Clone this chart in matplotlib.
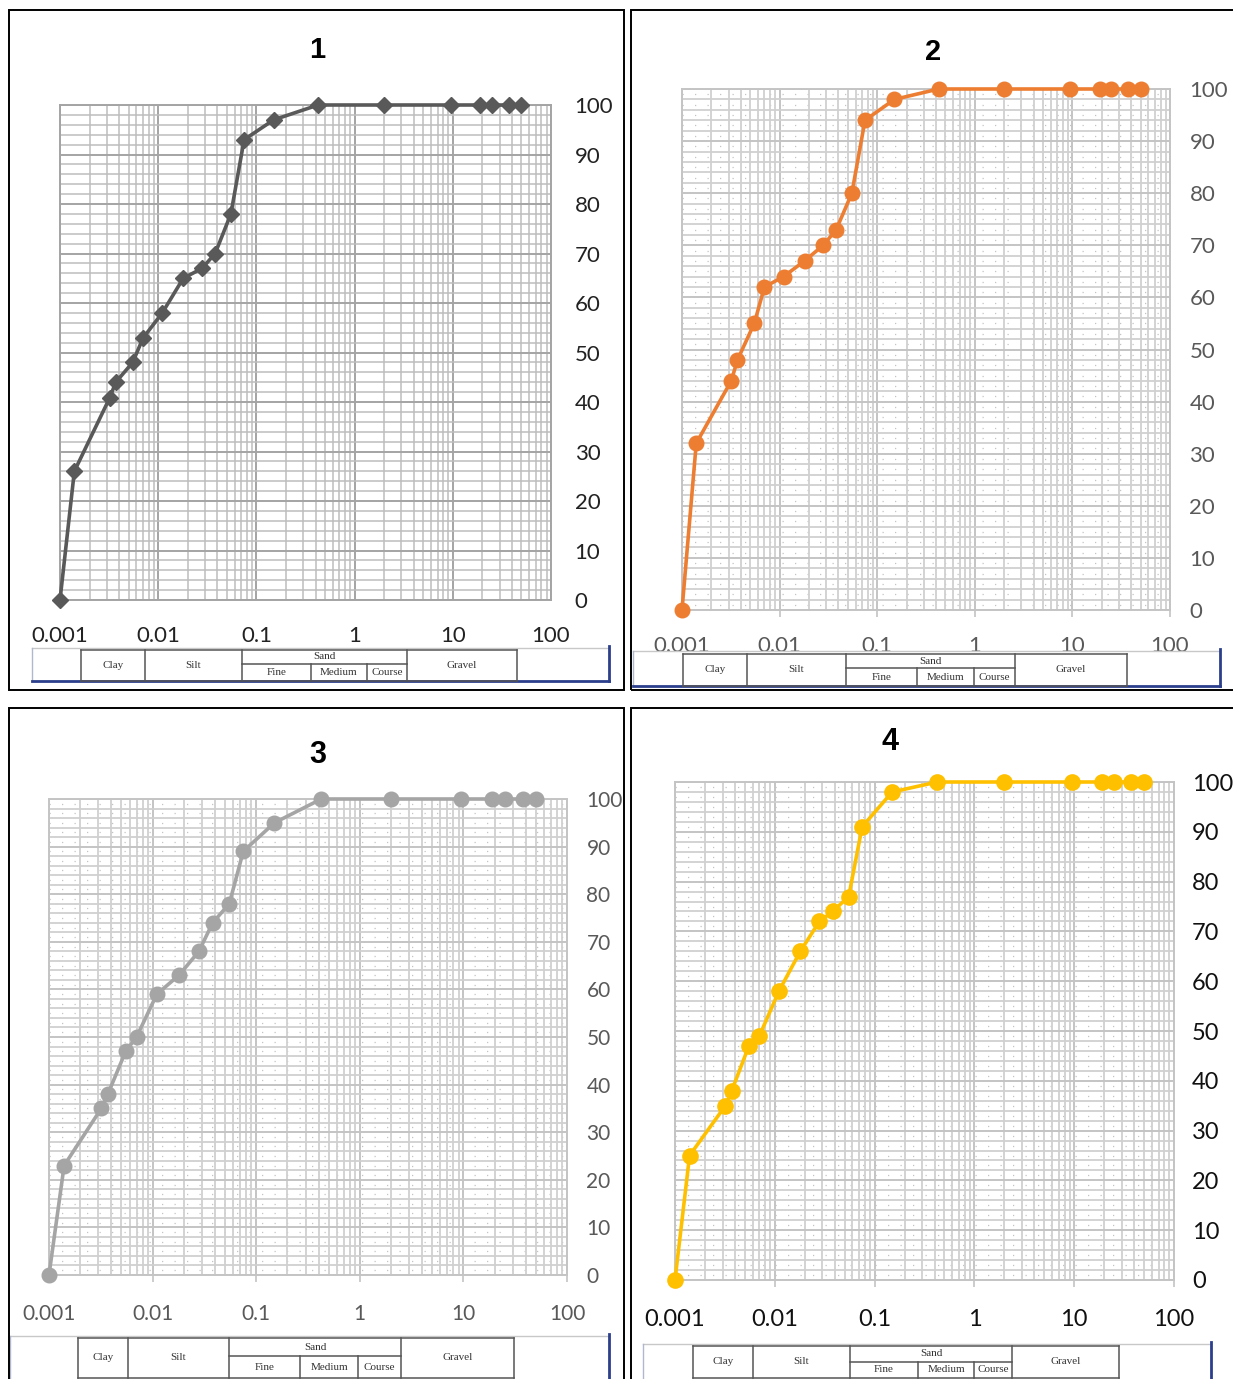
import numpy as np
import matplotlib
matplotlib.use("Agg")
import matplotlib.pyplot as plt
from matplotlib.patches import Rectangle
from matplotlib.lines import Line2D
from matplotlib.ticker import LogLocator, NullFormatter

# grain size (mm) - same sieve/hydrometer sizes for all four samples
sizes = [0.001, 0.0014, 0.0032, 0.0037, 0.0055, 0.007, 0.011, 0.018, 0.028,
         0.038, 0.055, 0.075, 0.15, 0.425, 2.0, 9.5, 19.0, 25.0, 37.5, 50.0]

# percent passing
passing_1 = [0, 26, 40.8, 44, 48, 52.9, 58, 65, 67, 70, 78, 93, 97, 100, 100, 100, 100, 100, 100, 100]
passing_2 = [0, 32, 44, 48, 55, 62, 64, 67, 70, 73, 80, 94, 98, 100, 100, 100, 100, 100, 100, 100]
passing_3 = [0, 23, 35, 38, 47, 50, 59, 63, 68, 74, 78, 89, 95, 100, 100, 100, 100, 100, 100, 100]
passing_4 = [0, 25, 35, 38, 47, 49, 58, 66, 72, 74, 77, 91, 98, 100, 100, 100, 100, 100, 100, 100]

titles = ["1", "2", "3", "4"]
x_ticks = [0.001, 0.01, 0.1, 1, 10, 100]
x_labels = ["0.001", "0.01", "0.1", "1", "10", "100"]
y_ticks = list(range(0, 101, 10))

soil_classes = ["Clay", "Silt", "Sand", "Gravel"]
sand_parts = ["Fine", "Medium", "Course"]

W, H = 1233, 1379
fig = plt.figure(figsize=(W / 100, H / 100), dpi=100)


def fx(x):
    return x / W


def fy(y):
    return 1 - y / H


def fline(x0, y0, x1, y1, color, lw, z=6):
    fig.add_artist(Line2D([fx(x0), fx(x1)], [fy(y0), fy(y1)], color=color, lw=lw, zorder=z))


# pixel layout of each panel
panels = [
    dict(frame=(8.5, 10.5, 623.5, 690.5), ax=(60, 105, 551, 600), title=(317, 50),
         color="#595959", marker="D", ms=8.5, lw=2.6, lab_color="#222222", lab_size=16,
         ypad=17, xpad=19, tick_len=0, grid_major="#a4a4a4", grid_minor="#bdbdbd",
         minor_lw=1.1, dots=False, title_size=21,
         table=dict(outer=(32, 648, 609, 681), top=650, bottom=681, split=664,
                    cols=[81, 145, 242, 407, 517], sub=[311, 367])),
    dict(frame=(631, 10.5, 1245, 690.5), ax=(682, 89, 1170, 610), title=(933, 52),
         color="#ED7D31", marker="o", ms=10.5, lw=2.6, lab_color="#595959", lab_size=16,
         ypad=14, xpad=14, tick_len=5, grid_major="#c4c4c4", grid_minor="#d0d0d0",
         minor_lw=1.3, dots=True, title_size=21,
         table=dict(outer=(633, 651, 1220, 686), top=654, bottom=686, split=668,
                    cols=[683, 747, 846, 1015, 1127], sub=[917, 974])),
    dict(frame=(8.5, 707.5, 623.5, 1395), ax=(49, 799, 567, 1275), title=(318, 755),
         color="#A5A5A5", marker="o", ms=10.5, lw=2.6, lab_color="#595959", lab_size=15,
         ypad=14, xpad=16, tick_len=5, grid_major="#c4c4c4", grid_minor="#d0d0d0",
         minor_lw=1.3, dots=True, title_size=22,
         table=dict(outer=(10, 1336, 609, 1395), top=1338, bottom=1378, split=1356,
                    cols=[78, 128, 229, 401, 514], sub=[300, 358])),
    dict(frame=(631, 707.5, 1245, 1395), ax=(675, 782, 1174, 1280), title=(890, 742),
         color="#FFC000", marker="o", ms=11, lw=2.6, lab_color="#111111", lab_size=17,
         ypad=13, xpad=16, tick_len=5, grid_major="#c4c4c4", grid_minor="#d0d0d0",
         minor_lw=1.3, dots=True, title_size=22,
         table=dict(outer=(643, 1344, 1211, 1395), top=1346, bottom=1378, split=1362,
                    cols=[693, 753, 850, 1012, 1119], sub=[918, 974])),
]
series = [passing_1, passing_2, passing_3, passing_4]

for p, vals, title in zip(panels, series, titles):
    x0, y0, x1, y1 = p["ax"]
    ax = fig.add_axes([fx(x0), fy(y1), (x1 - x0) / W, (y1 - y0) / H])
    ax.set_xscale("log")
    ax.set_xlim(0.001, 100)
    ax.set_ylim(0, 100)
    ax.set_xticks(x_ticks)
    ax.set_xticklabels(x_labels)
    ax.xaxis.set_minor_locator(LogLocator(base=10, subs=np.arange(2, 10), numticks=20))
    ax.xaxis.set_minor_formatter(NullFormatter())
    ax.set_yticks(y_ticks)
    ax.set_yticks(np.arange(0, 101, 2), minor=True)
    ax.yaxis.tick_right()
    ax.tick_params(axis="y", which="both", length=0, pad=p["ypad"],
                   labelsize=p["lab_size"], labelcolor=p["lab_color"])
    ax.tick_params(axis="x", which="minor", length=0)
    ax.tick_params(axis="x", which="major", length=p["tick_len"], color=p["grid_major"],
                   width=1.2, pad=p["xpad"], labelsize=p["lab_size"], labelcolor=p["lab_color"])
    for lab in ax.get_xticklabels() + ax.get_yticklabels():
        lab.set_fontfamily("Lato")
    ax.grid(which="major", color=p["grid_major"], lw=1.4)
    ax.grid(which="minor", color=p["grid_minor"], lw=p["minor_lw"])
    ax.set_axisbelow(True)
    if p["dots"]:
        ax.hlines(np.arange(1, 100, 2), 0.001, 100, colors="#c4c4c4",
                  linestyles=(0, (1, 9)), lw=0.9, zorder=0.5)
    for s in ax.spines.values():
        s.set_color(p["grid_major"])
        s.set_linewidth(1.4)
    ax.plot(sizes, vals, color=p["color"], lw=p["lw"], marker=p["marker"], ms=p["ms"],
            mec=p["color"], mfc=p["color"], clip_on=False, zorder=3)

    fig.text(fx(p["title"][0]), fy(p["title"][1]), title, ha="center", va="center",
             fontsize=p["title_size"], fontweight="bold", family="Liberation Sans")

    # classification table below the axis
    t = p["table"]
    ox0, oy0, ox1, oy1 = t["outer"]
    fig.add_artist(Rectangle((fx(ox0), fy(oy1)), (ox1 - ox0) / W, (oy1 - oy0) / H,
                             facecolor="white", edgecolor="none", zorder=5))
    fline(ox0, oy0, ox1, oy0, "#c8c8c8", 1.0)
    fline(ox0, oy0, ox0, oy1, "#b0b8d0", 1.0)
    fline(ox0, oy1, ox1, oy1, "#2b3f8c", 2.0)
    fline(ox1, oy0 - 2, ox1, oy1, "#2b3f8c", 2.0)
    c = t["cols"]
    top, bot, split = t["top"], t["bottom"], t["split"]
    fline(c[0], top, c[-1], top, "#555555", 1.1)
    fline(c[0], bot, c[-1], bot, "#555555", 1.1)
    for cx in c:
        fline(cx, top, cx, bot, "#555555", 1.1)
    fline(c[2], split, c[3], split, "#555555", 1.1)
    for sx in t["sub"]:
        fline(sx, split, sx, bot, "#555555", 1.1)
    mid = (top + bot) / 2
    tkw = dict(ha="center", va="center", fontsize=8, color="#333333",
               family="Liberation Serif", zorder=7)
    for name, a, b in zip(soil_classes, c[:-1], c[1:]):
        if name == "Sand":
            fig.text(fx((a + b) / 2), fy((top + split) / 2), name, **tkw)
        else:
            fig.text(fx((a + b) / 2), fy(mid), name, **tkw)
    edges = [c[2]] + t["sub"] + [c[3]]
    for name, a, b in zip(sand_parts, edges[:-1], edges[1:]):
        fig.text(fx((a + b) / 2), fy((split + bot) / 2), name, **tkw)

    fx0, fy0, fx1, fy1 = p["frame"]
    fig.add_artist(Rectangle((fx(fx0), fy(fy1)), (fx1 - fx0) / W, (fy1 - fy0) / H,
                             fill=False, edgecolor="black", lw=1.4, zorder=8))

fig.savefig("out.png", dpi=100)
